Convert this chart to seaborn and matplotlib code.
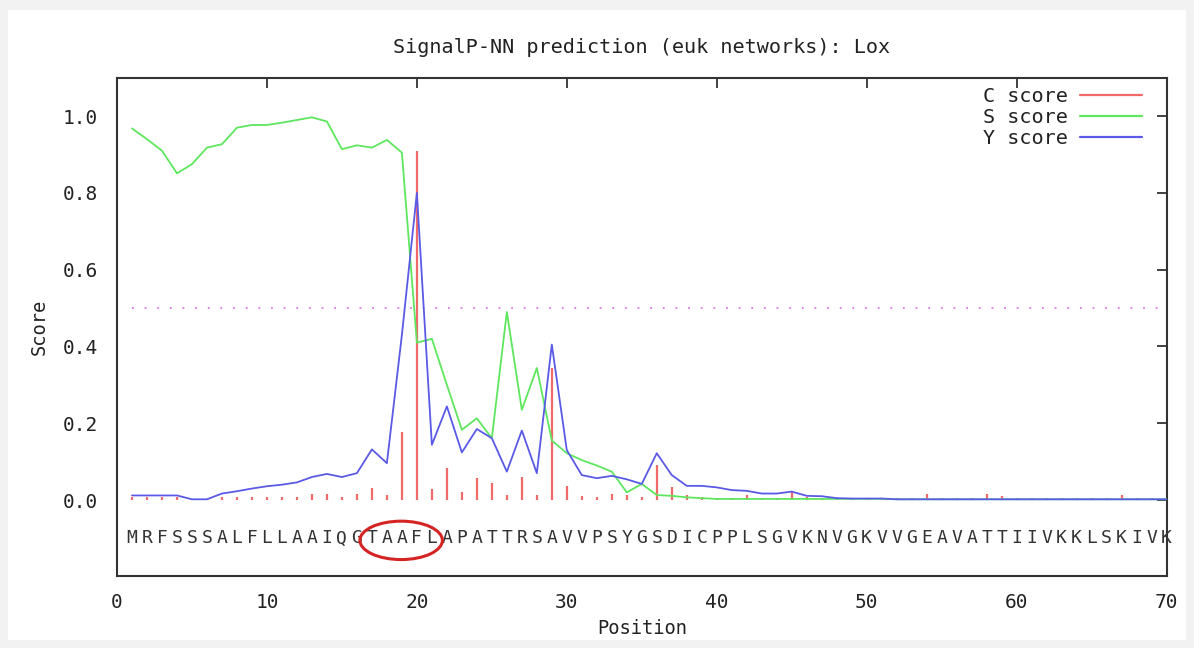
import numpy as np
import pandas as pd
import matplotlib
matplotlib.use("Agg")
import matplotlib.pyplot as plt
import seaborn as sns
from matplotlib.patches import Ellipse, Rectangle
from matplotlib.lines import Line2D

# sequencia e scores
sequence = "MRFSSSALFLLAAIQGTAAFLAPATTRSAVVPSYGSDICPPLSGVKNVGKVVGEAVATTIIVKKLSKIVK"
positions = list(range(1, 71))

c_score = [0.009, 0.009, 0.009, 0.009, 0.002, 0.002, 0.009, 0.008, 0.008, 0.008,
           0.008, 0.009, 0.015, 0.015, 0.008, 0.015, 0.032, 0.013, 0.177, 0.91,
           0.028, 0.084, 0.022, 0.057, 0.044, 0.013, 0.061, 0.013, 0.344, 0.037,
           0.011, 0.009, 0.017, 0.013, 0.009, 0.091, 0.033, 0.013, 0.007, 0.006,
           0.005, 0.013, 0.005, 0.005, 0.022, 0.007, 0.006, 0.005, 0.005, 0.004,
           0.004, 0.006, 0.006, 0.016, 0.006, 0.006, 0.006, 0.016, 0.010, 0.006,
           0.006, 0.006, 0.006, 0.006, 0.006, 0.006, 0.012, 0.006, 0.006, 0.004]

s_score = [0.968, 0.94, 0.91, 0.851, 0.875, 0.918, 0.927, 0.97, 0.977, 0.977,
           0.983, 0.99, 0.997, 0.986, 0.914, 0.924, 0.918, 0.938, 0.905, 0.41,
           0.42, 0.30, 0.183, 0.213, 0.161, 0.49, 0.235, 0.344, 0.155, 0.122,
           0.104, 0.09, 0.074, 0.02, 0.042, 0.013, 0.011, 0.007, 0.005, 0.003,
           0.003, 0.003, 0.003, 0.003, 0.003, 0.003, 0.003, 0.003, 0.003, 0.003,
           0.003, 0.002, 0.002, 0.002, 0.002, 0.002, 0.002, 0.002, 0.002, 0.002,
           0.002, 0.002, 0.002, 0.002, 0.002, 0.002, 0.002, 0.002, 0.002, 0.002]

y_score = [0.012, 0.012, 0.012, 0.012, 0.002, 0.002, 0.017, 0.023, 0.03, 0.036,
           0.04, 0.046, 0.06, 0.068, 0.06, 0.07, 0.132, 0.096, 0.43, 0.80,
           0.144, 0.244, 0.124, 0.185, 0.161, 0.074, 0.181, 0.07, 0.405, 0.13,
           0.065, 0.057, 0.063, 0.054, 0.042, 0.122, 0.065, 0.037, 0.037, 0.033,
           0.026, 0.024, 0.017, 0.017, 0.022, 0.011, 0.01, 0.005, 0.004, 0.004,
           0.004, 0.002, 0.002, 0.002, 0.002, 0.002, 0.002, 0.002, 0.002, 0.002,
           0.002, 0.002, 0.002, 0.002, 0.002, 0.002, 0.002, 0.002, 0.002, 0.002]

cutoff = 0.5
x_ticks = [0, 10, 20, 30, 40, 50, 60, 70]
y_ticks = [0.0, 0.2, 0.4, 0.6, 0.8, 1.0]

df = pd.DataFrame({"pos": positions, "C": c_score, "S": s_score, "Y": y_score})

sns.set_style("white")
plt.rcParams['font.family'] = ['DejaVu Sans Mono', 'DejaVu Sans']

red = "#f06a6a"
green = "#5ee65e"
blue = "#5a5ae6"
txt = "#222222"

fig = plt.figure(figsize=(11.94, 6.48), dpi=100, facecolor="#f2f2f2")
fig.patches.append(Rectangle((0.007, 0.012), 0.986, 0.972, transform=fig.transFigure,
                             facecolor="white", edgecolor="none", zorder=-10))
ax = fig.add_axes([0.098, 0.111, 0.879, 0.769])
ax.set_facecolor("white")

# C score como impulsos
ax.vlines(df["pos"], 0, df["C"], color=red, lw=1.6, zorder=2)
sns.lineplot(data=df, x="pos", y="S", ax=ax, color=green, lw=1.3, zorder=3)
sns.lineplot(data=df, x="pos", y="Y", ax=ax, color=blue, lw=1.3, zorder=4)
ax.plot([1, 70], [cutoff, cutoff], color="#e27ae2", lw=1.3, ls=(0, (1, 6)), zorder=1)

# letras da sequencia
for p, aa in zip(positions, sequence):
    ax.text(p, -0.1, aa, ha="center", va="center", fontsize=13, color="#333333")

ax.add_patch(Ellipse((18.95, -0.105), 5.5, 0.1, fill=False, edgecolor="#d42424",
                     lw=2.2, zorder=6))

ax.set_xlim(0, 70)
ax.set_ylim(-0.198, 1.1)
ax.set_xticks(x_ticks)
ax.set_yticks(y_ticks)
ax.set_yticklabels([f"{v:.1f}" for v in y_ticks])
ax.tick_params(direction="in", length=7, width=1.3, top=True, right=True,
               colors="#333333", labelcolor=txt, labelsize=14)
ax.tick_params(axis="x", pad=12)
ax.tick_params(axis="y", pad=14)
for sp in ax.spines.values():
    sp.set_linewidth(1.5)
    sp.set_color("#333333")

ax.set_xlabel("Position", fontsize=13.5, color=txt, labelpad=5)
ax.set_ylabel("Score", fontsize=13.5, color=txt, labelpad=10)
ax.set_title("SignalP-NN prediction (euk networks): Lox", fontsize=14.5, color=txt, pad=18)

handles = [Line2D([], [], color=red, lw=1.6),
           Line2D([], [], color=green, lw=1.6),
           Line2D([], [], color=blue, lw=1.6)]
ax.legend(handles, ["C score", "S score", "Y score"], loc="upper right",
          bbox_to_anchor=(0.99, 1.01), markerfirst=False, frameon=False,
          handlelength=3.1, labelspacing=0.1, fontsize=14.5,
          labelcolor=txt, borderaxespad=0.3, handletextpad=0.6)

fig.savefig("out.png", dpi=100, facecolor=fig.get_facecolor())
